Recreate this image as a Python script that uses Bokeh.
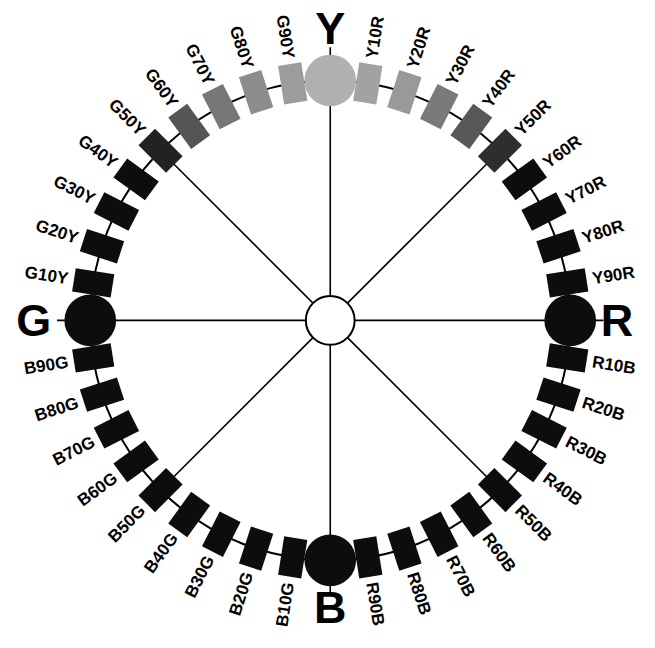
import math
from bokeh.plotting import figure
from bokeh.models import Range1d
from bokeh.embed import file_html
from bokeh.resources import INLINE
from bokeh.core.properties import value

# NCS hue circle, clockwise from the top (Y)
hues = ["Y", "Y10R", "Y20R", "Y30R", "Y40R", "Y50R", "Y60R", "Y70R", "Y80R", "Y90R",
        "R", "R10B", "R20B", "R30B", "R40B", "R50B", "R60B", "R70B", "R80B", "R90B",
        "B", "B10G", "B20G", "B30G", "B40G", "B50G", "B60G", "B70G", "B80G", "B90G",
        "G", "G10Y", "G20Y", "G30Y", "G40Y", "G50Y", "G60Y", "G70Y", "G80Y", "G90Y"]
elementary = ["Y", "R", "B", "G"]
spoke_hues = ["Y", "Y50R", "R", "R50B", "B", "B50G", "G", "G50Y"]
# printed grey tone of each swatch (halftone in the scan)
shade = {"Y": "#b0b0b0", "Y10R": "#a2a2a2", "Y20R": "#999999", "Y30R": "#7a7a7a",
         "Y40R": "#585858", "Y50R": "#2e2e2e",
         "G90Y": "#9c9c9c", "G80Y": "#8c8c8c", "G70Y": "#777777",
         "G60Y": "#555555", "G50Y": "#222222"}
dark = "#0d0d0d"

W, H = 639, 632
p = figure(width=W, height=H, output_backend="svg", toolbar_location=None,
           x_range=Range1d(0, 655), y_range=Range1d(0, 648),
           min_border=0)
p.axis.visible = False
p.grid.visible = False
p.outline_line_color = None
p.background_fill_color = "white"

k = W / 655.0                     # screen px per data unit
cx, cy = 338, 648 - 328
R = 246          # ring radius
step = 360 / len(hues)

def ang(i):
    return math.radians(90 - step * i)

def fs(px):
    return "%.1fpx" % (px * k)

# spokes
for h in spoke_hues:
    i = hues.index(h)
    a = ang(i)
    rr = R + 34 if h in elementary else R
    p.line([cx, cx + rr * math.cos(a)], [cy, cy + rr * math.sin(a)],
           line_color="black", line_width=1.6)

# ring
p.circle([cx], [cy], radius=R, fill_color=None, line_color="black", line_width=2)

# swatches
rx, ry, ra, rc = [], [], [], []
ex, ey, ec = [], [], []
for i, h in enumerate(hues):
    a = ang(i)
    x, y = cx + R * math.cos(a), cy + R * math.sin(a)
    if h in elementary:
        ex.append(x); ey.append(y); ec.append(shade.get(h, dark))
    else:
        rx.append(x); ry.append(y); ra.append(a); rc.append(shade.get(h, dark))

p.rect(rx, ry, width=40, height=24, angle=ra, fill_color=rc, line_color=None)
p.circle(ex, ey, radius=26.5, fill_color=ec, line_color=None)

# centre
p.circle([cx], [cy], radius=25, fill_color="white", line_color="black", line_width=2)

# labels
rt = 272
big_r = {"Y": 299, "G": 304, "R": 294, "B": 294}
for i, h in enumerate(hues):
    a = ang(i)
    if h in elementary:
        r2 = big_r[h]
        p.text([cx + r2 * math.cos(a)], [cy + r2 * math.sin(a)], text=[h],
               text_font=value("Liberation Sans"), text_font_style="bold",
               text_font_size=fs(46), text_align="center", text_baseline="middle",
               text_color="black")
        continue
    x, y = cx + rt * math.cos(a), cy + rt * math.sin(a)
    if math.cos(a) > 0:
        angle, align = a, "left"
    else:
        angle, align = a - math.pi, "right"
    p.text([x], [y], text=[h], angle=angle,
           text_font=value("Liberation Sans"), text_font_style="bold",
           text_font_size=fs(17.5), text_align=align, text_baseline="middle",
           text_color="black")

open("out.html", "w").write(file_html(p, INLINE))
